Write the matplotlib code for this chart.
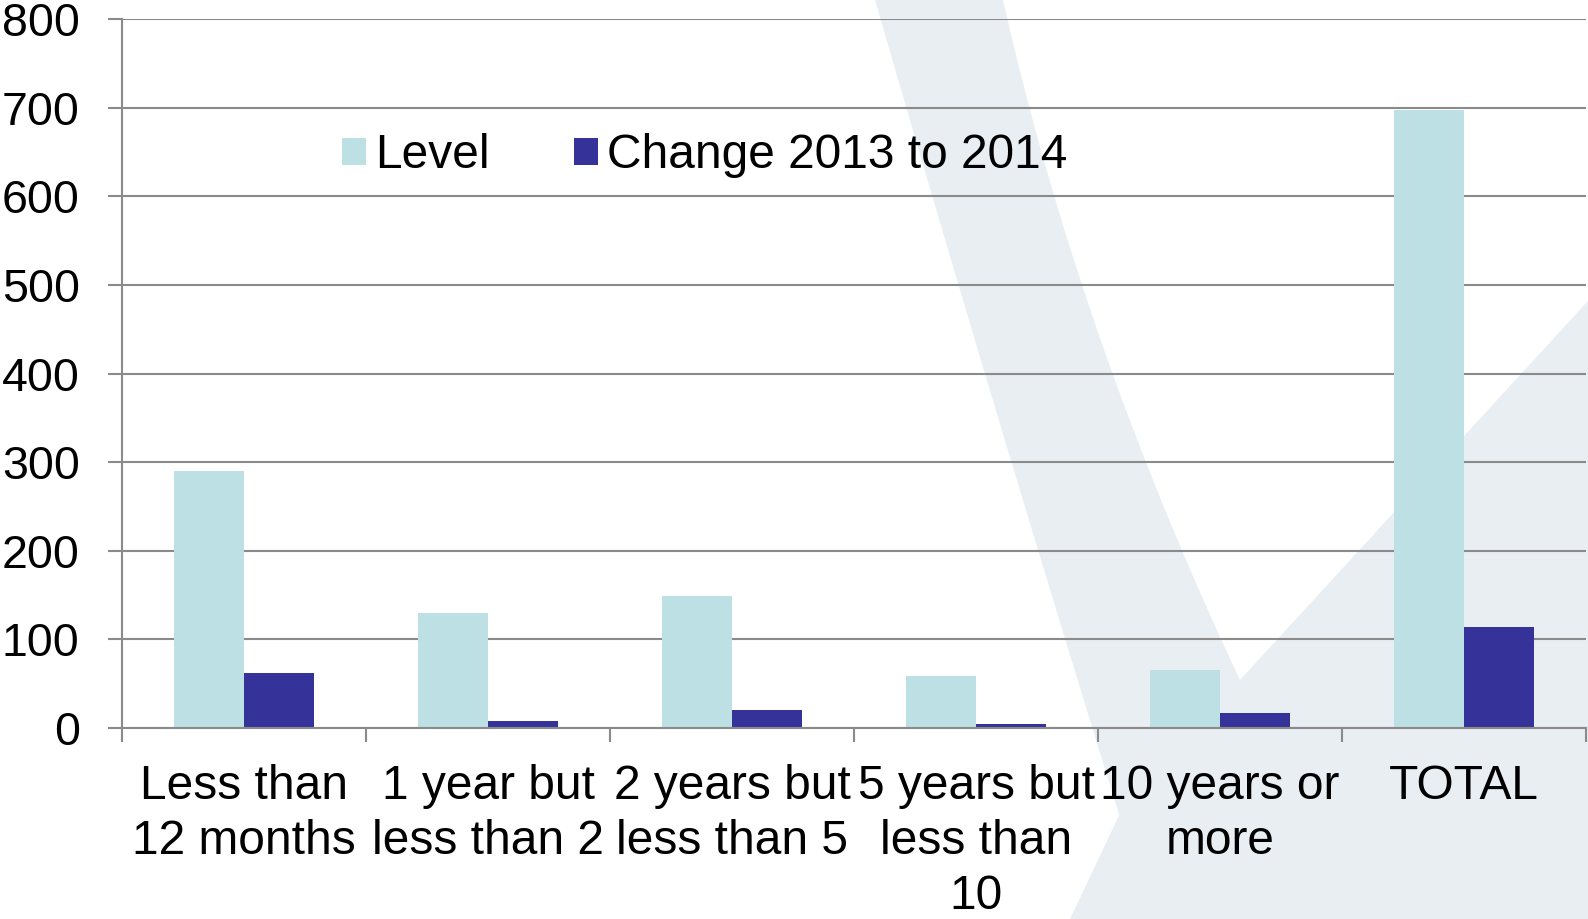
import numpy as np
import matplotlib.pyplot as plt
from matplotlib.patches import Polygon

# Data
categories = ['Less than\n12 months', '1 year but\nless than 2', '2 years but\nless than 5',
              '5 years but\nless than\n10', '10 years or\nmore', 'TOTAL']
level = [290, 130, 149, 59, 66, 697]
change = [62, 8, 20, 4, 17, 114]
series_names = ['Level', 'Change 2013 to 2014']
y_ticks = [0, 100, 200, 300, 400, 500, 600, 700, 800]

level_color = '#bce0e3'
change_color = '#35339a'
grid_color = '#8a8a8a'
mark_color = '#e9eef3'

plt.rcParams['font.family'] = ['Liberation Sans', 'DejaVu Sans']
fs_y = 33.5
fs = 34.5

W, H = 1588, 919
fig = plt.figure(figsize=(W / 100, H / 100), dpi=100)
fig.patch.set_facecolor('white')

# faint check-mark watermark behind the plot, outline in figure pixels
# (two gently curved edges for the long stroke, straight edges for the short one)
yy_right = np.linspace(0, 680, 30)
right_edge = [(1003 + 0.2259 * y + 1.803e-4 * y ** 2, y) for y in yy_right]
yy_left = np.linspace(815, 0, 30)
left_edge = [(875 + 0.2896 * y + 1.24e-5 * y ** 2, y) for y in yy_left]
mark_px = right_edge + [(1588, 301), (1588, 919), (1070, 919)] + left_edge
fig.add_artist(Polygon([(x / W, 1 - y / H) for x, y in mark_px], closed=True,
                       facecolor=mark_color, edgecolor='none', zorder=0,
                       transform=fig.transFigure))

ax = fig.add_axes([122 / W, 1 - 728 / H, (1586 - 122) / W, (728 - 19) / H])
ax.set_zorder(1)
ax.patch.set_alpha(0)

x = np.arange(len(categories))
w = 0.287
b1 = ax.bar(x - w / 2, level, w, color=level_color, linewidth=0, label=series_names[0])
b2 = ax.bar(x + w / 2, change, w, color=change_color, linewidth=0, label=series_names[1])

ax.set_xlim(-0.5, len(categories) - 0.5)
ax.set_ylim(0, 800)
ax.set_yticks(y_ticks)
ax.set_yticklabels([str(v) for v in y_ticks], fontsize=fs_y)
ax.set_xticks(x)
ax.set_xticklabels(categories, fontsize=fs, linespacing=1.28)
ax.set_xticks(np.arange(len(categories) + 1) - 0.5, minor=True)

ax.set_axisbelow(True)
ax.yaxis.grid(True, color=grid_color, linewidth=1.5)
ax.tick_params(axis='y', length=10, width=1.5, color=grid_color, pad=20.5)
ax.tick_params(axis='x', which='major', length=0, pad=26)
ax.tick_params(axis='x', which='minor', length=10, width=1.5, color=grid_color)

for side in ['top', 'right']:
    ax.spines[side].set_visible(False)
for side in ['left', 'bottom']:
    ax.spines[side].set_color(grid_color)
    ax.spines[side].set_linewidth(1.5)

ax.legend(handles=[b1, b2], loc='center left', ncol=2, frameon=False, fontsize=fs,
          bbox_to_anchor=(342 / W, 1 - 156 / H), bbox_transform=fig.transFigure,
          borderpad=0, borderaxespad=0, handlelength=0.5, handleheight=0.5,
          handletextpad=0.2, columnspacing=1.74)

fig.savefig('out.png', dpi=100)
